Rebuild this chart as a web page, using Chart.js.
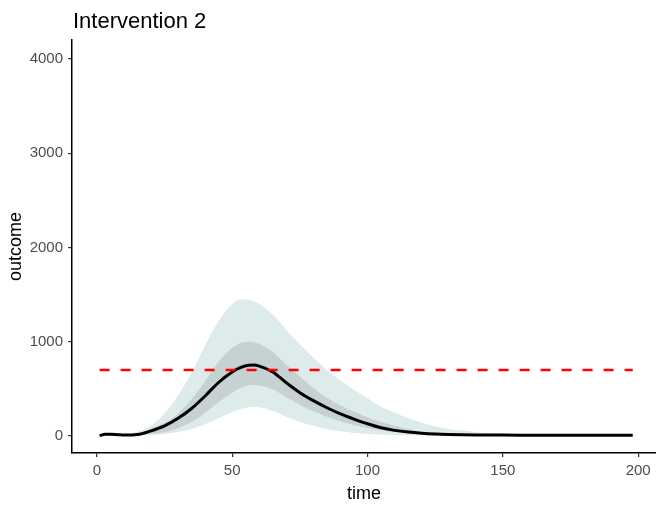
<!DOCTYPE html>
<html>
<head>
<meta charset="utf-8">
<script src="https://cdn.jsdelivr.net/npm/chart.js@4.4.1/dist/chart.umd.min.js"></script>
<style>
  html, body { margin: 0; padding: 0; background: #fff; }
  #wrap { width: 656px; height: 506px; }
</style>
</head>
<body>
<div id="wrap"><canvas id="chart"></canvas></div>
<script>
const TITLE = 'Intervention 2';
const X_LABEL = 'time';
const Y_LABEL = 'outcome';
const X_TICKS = [0, 50, 100, 150, 200];
const Y_TICKS = [0, 1000, 2000, 3000, 4000];

// shared time grid for every series
const TIME = [1, 3, 5, 8, 10, 15, 20, 25, 30, 35, 40, 45, 50, 53, 56, 58, 60, 65, 70, 75,
              80, 85, 90, 95, 100, 105, 110, 115, 120, 125, 130, 135, 140, 145, 150, 160, 170, 180, 190, 198];

const MEDIAN   = [5, 18, 20, 14, 10, 16, 55, 108, 188, 292, 425, 570, 680, 725, 750, 752, 742, 680, 565, 460,
                  375, 300, 235, 180, 130, 88, 60, 42, 30, 22, 17, 14, 12, 11, 10, 9, 8, 8, 7, 7];
const INNER_LO = [2, 14, 16, 10, 6, 9, 25, 40, 85, 150, 245, 360, 460, 510, 535, 540, 535, 495, 410, 330,
                  262, 205, 158, 118, 85, 60, 42, 30, 22, 17, 13, 11, 10, 9, 8, 7, 6, 6, 5, 5];
const INNER_HI = [8, 22, 24, 18, 14, 30, 75, 140, 240, 390, 580, 790, 935, 985, 1000, 995, 975, 890, 755, 630,
                  510, 405, 325, 260, 200, 150, 110, 75, 45, 32, 24, 19, 15, 14, 13, 11, 10, 9, 8, 8];
const OUTER_LO = [0, 5, 5, 3, 2, 4, 10, 22, 42, 75, 125, 190, 255, 285, 305, 310, 305, 265, 205, 150,
                  108, 72, 50, 33, 22, 15, 10, 7, 5, 4, 3, 3, 2, 2, 2, 1, 1, 1, 1, 1];
const OUTER_HI = [8, 24, 26, 20, 18, 45, 110, 240, 430, 670, 960, 1220, 1400, 1450, 1445, 1430, 1400, 1285, 1125, 970,
                  830, 700, 590, 490, 400, 310, 250, 190, 140, 100, 75, 60, 42, 30, 24, 14, 11, 9, 8, 8];

const REF_T = [1, 198];
const REF_Y = [700, 700];

const FONT = '"Liberation Sans", Arial, sans-serif';

const pts = (xs, ys) => xs.map((x, i) => ({ x, y: ys[i] }));

const band = (data, fill, color) => ({
  data, fill, backgroundColor: color, borderWidth: 0, pointRadius: 0, showLine: true,
  cubicInterpolationMode: 'monotone'
});

const titlePlugin = {
  id: 'plotTitle',
  afterDraw(chart) {
    const { ctx, chartArea } = chart;
    ctx.save();
    ctx.font = '22px ' + FONT;
    ctx.fillStyle = '#000';
    ctx.textBaseline = 'alphabetic';
    ctx.textAlign = 'left';
    ctx.fillText(TITLE, chartArea.left + 1, 28);
    ctx.restore();
  }
};

new Chart(document.getElementById('chart'), {
  type: 'scatter',
  data: {
    datasets: [
      { data: pts(REF_T, REF_Y), showLine: true, borderColor: '#FF0000', borderWidth: 2.6,
        borderDash: [10, 11], pointRadius: 0, fill: false },
      { data: pts(TIME, MEDIAN), showLine: true, borderColor: '#000', borderWidth: 3,
        pointRadius: 0, fill: false, cubicInterpolationMode: 'monotone' },
      band(pts(TIME, INNER_LO), false, 'transparent'),
      band(pts(TIME, INNER_HI), '-1', '#C6D2D2'),
      band(pts(TIME, OUTER_LO), false, 'transparent'),
      band(pts(TIME, OUTER_HI), '-1', '#DDEBEB'),
    ]
  },
  options: {
    responsive: true,
    maintainAspectRatio: false,
    animation: false,
    layout: { padding: { top: 40, right: 0, left: 0, bottom: 0 } },
    plugins: { legend: { display: false }, tooltip: { enabled: false } },
    scales: {
      x: {
        type: 'linear', min: -9.2, max: 206.6,
        afterBuildTicks: s => { s.ticks = X_TICKS.map(v => ({ value: v })); },
        afterFit: s => { s.height = 53; s.paddingLeft = 0; s.paddingRight = 0; },
        ticks: { color: '#4D4D4D', font: { family: FONT, size: 15 }, padding: 5, maxRotation: 0,
                 callback: v => String(v) },
        grid: { drawOnChartArea: false, tickLength: 4, color: '#333', lineWidth: 1.2 },
        border: { display: true, color: '#000', width: 1.5 },
        title: { display: true, text: X_LABEL, color: '#000', font: { family: FONT, size: 18 },
                 padding: { top: 0, bottom: 1 } }
      },
      y: {
        type: 'linear', min: -180, max: 4200,
        afterBuildTicks: s => { s.ticks = Y_TICKS.map(v => ({ value: v })); },
        afterFit: s => { s.width = 72; s.paddingTop = 0; s.paddingBottom = 0; },
        ticks: { color: '#4D4D4D', font: { family: FONT, size: 15 }, padding: 5,
                 callback: v => String(v) },
        grid: { drawOnChartArea: false, tickLength: 4, color: '#333', lineWidth: 1.2 },
        border: { display: true, color: '#000', width: 1.5 },
        title: { display: true, text: Y_LABEL, color: '#000', font: { family: FONT, size: 18 },
                 padding: { top: 5, bottom: 0 } }
      }
    }
  },
  plugins: [titlePlugin]
});
</script>
</body>
</html>
